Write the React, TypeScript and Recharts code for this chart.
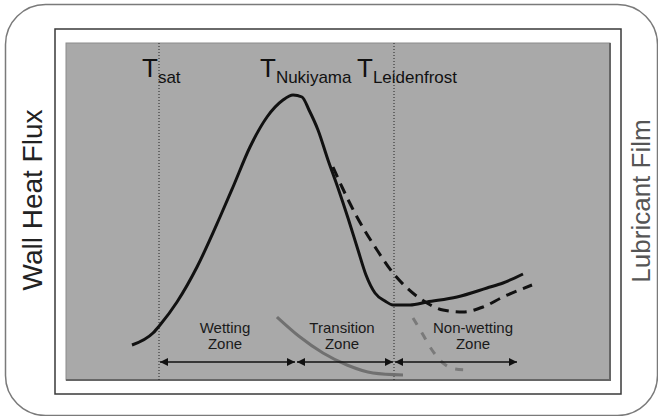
import { ComposedChart, Line, XAxis, YAxis, ReferenceLine, ReferenceDot } from "recharts"

const FONT = '"Liberation Sans", Arial, sans-serif'

// ─── Data (wall temperature → heat flux, arbitrary units) ────────────────────

const boilingT = [66, 87, 94, 111, 131, 154, 167, 184, 201, 217, 227, 236, 243, 252, 262, 272, 282, 292, 300, 309, 319, 327, 344, 361, 391, 421, 437, 457]
const boilingQ = [35, 47, 55, 78, 113, 163, 193, 233, 263, 280, 285, 283, 270, 250, 220, 192, 162, 130, 105, 87, 79, 75, 75, 78, 83, 92, 97, 106]

const lubricatedT = [267, 276, 291, 311, 327, 341, 361, 377, 397, 417, 437, 466]
const lubricatedQ = [213, 193, 163, 130, 107, 92, 77, 70, 68, 73, 83, 95]

const filmT = [211, 234, 257, 281, 307, 337]
const filmQ = [63, 43, 27, 15, 7, 5]

const filmDryT = [347, 356, 366, 377, 389, 401]
const filmDryQ = [62, 47, 30, 17, 11, 10]

const tempMarks = [93, 328]
const tempNames = ["sat", "Nukiyama", "Leidenfrost"]
const tempLabelT = [76, 194, 291]

const zoneNames = [["Wetting", "Zone"], ["Transition", "Zone"], ["Non-wetting", "Zone"]]
const zoneLabelT = [159, 276, 407]
const zoneStart = [94, 231, 329]
const zoneEnd = [229, 327, 451]
const zoneArrowQ = 18

const zip = (t: number[], q: number[]) => t.map((v, i) => ({ t: v, q: q[i] }))

const boiling = zip(boilingT, boilingQ)
const lubricated = zip(lubricatedT, lubricatedQ)
const film = zip(filmT, filmQ)
const filmDry = zip(filmDryT, filmDryQ)

// arrow heads at both ends of a zone span
// eslint-disable-next-line @typescript-eslint/no-explicit-any
const arrowDot = (p: any) => {
  const { cx, cy, index } = p
  const d = index === 0 ? 8 : -8
  return (
    <polygon
      key={`a${index}`}
      points={`${cx},${cy} ${cx + d},${cy - 4} ${cx + d},${cy + 4}`}
      fill="#111"
    />
  )
}

function Frame() {
  return (
    <svg width={658} height={416} style={{ position: "absolute", left: 0, top: 0 }}>
      <rect x={5.5} y={4.5} width={652} height={411} rx={40} fill="#fff" stroke="#7a7a7a" strokeWidth={1.5} />
      <rect x={55} y={29} width={566} height={365} fill="#fff" stroke="#3a3a3a" strokeWidth={1.5} />
      <rect x={66} y={43} width={544} height={337} fill="#a9a9a9" stroke="#8c8c8c" strokeWidth={1} />
      <path d="M610,43 L610,380 L66,380" fill="none" stroke="#666" strokeWidth={2} />
      <text
        transform="translate(42,200) rotate(-90)"
        textAnchor="middle"
        fontSize={28}
        fontFamily={FONT}
        fill="#222"
      >
        Wall Heat Flux
      </text>
      <text
        transform="translate(650,201) rotate(-90)"
        textAnchor="middle"
        fontSize={26}
        fontFamily={FONT}
        fill="#555"
      >
        Lubricant Film
      </text>
    </svg>
  )
}

export default function App() {
  return (
    <div style={{ position: "absolute", left: 0, top: 0, width: 658, height: 416, background: "#fff" }}>
      <Frame />
      <div style={{ position: "absolute", left: 0, top: 0 }}>
        <ComposedChart width={658} height={416} margin={{ top: 43, right: 48, bottom: 36, left: 66 }}>
          <XAxis type="number" dataKey="t" domain={[0, 544]} hide />
          <YAxis type="number" dataKey="q" domain={[0, 337]} hide />

          {tempMarks.map((t) => (
            <ReferenceLine key={t} x={t} stroke="#222" strokeDasharray="1 2" strokeWidth={1} />
          ))}

          <Line data={film} dataKey="q" type="monotone" stroke="#707070" strokeWidth={3} dot={false} activeDot={false} isAnimationActive={false} />
          <Line data={filmDry} dataKey="q" type="monotone" stroke="#7a7a7a" strokeWidth={3} strokeDasharray="8 9" dot={false} activeDot={false} isAnimationActive={false} />
          <Line data={lubricated} dataKey="q" type="monotone" stroke="#111" strokeWidth={3} strokeDasharray="11 7" dot={false} activeDot={false} isAnimationActive={false} />
          <Line data={boiling} dataKey="q" type="monotone" stroke="#111" strokeWidth={3} dot={false} activeDot={false} isAnimationActive={false} />

          {zoneStart.map((s, i) => (
            <Line
              key={`z${i}`}
              data={[{ t: s, q: zoneArrowQ }, { t: zoneEnd[i], q: zoneArrowQ }]}
              dataKey="q"
              type="linear"
              stroke="#111"
              strokeWidth={1.5}
              dot={arrowDot}
              activeDot={false}
              isAnimationActive={false}
            />
          ))}

          {tempNames.map((name, i) => (
            <ReferenceDot
              key={name}
              x={tempLabelT[i]}
              y={303}
              ifOverflow="visible"
              // eslint-disable-next-line @typescript-eslint/no-explicit-any
              shape={(p: any) => (
                <text x={p.cx} y={p.cy} fontFamily={FONT} fontSize={26} fill="#111">
                  T
                  <tspan dy={6} fontSize={17}>{name}</tspan>
                </text>
              )}
            />
          ))}

          {zoneNames.map((lines, i) => (
            <ReferenceDot
              key={lines[0]}
              x={zoneLabelT[i]}
              y={47}
              ifOverflow="visible"
              // eslint-disable-next-line @typescript-eslint/no-explicit-any
              shape={(p: any) => (
                <text x={p.cx} y={p.cy} fontFamily={FONT} fontSize={15} fill="#1a1a1a" textAnchor="middle">
                  <tspan x={p.cx}>{lines[0]}</tspan>
                  <tspan x={p.cx} dy={16}>{lines[1]}</tspan>
                </text>
              )}
            />
          ))}
        </ComposedChart>
      </div>
    </div>
  )
}
